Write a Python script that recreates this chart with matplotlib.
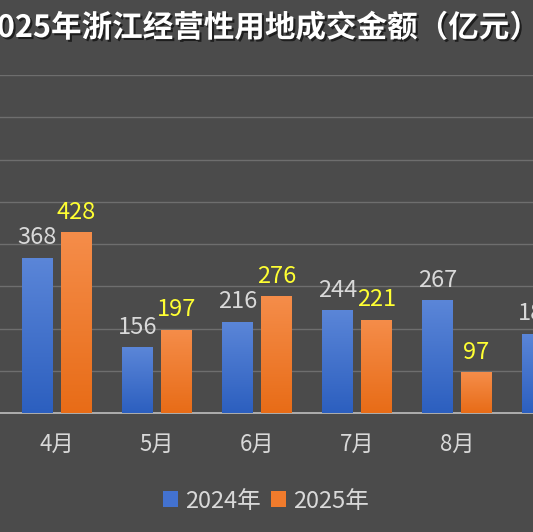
import numpy as np
import matplotlib.pyplot as plt
import matplotlib.patheffects as pe
from matplotlib.colors import LinearSegmentedColormap
from matplotlib.patches import Patch

plt.rcParams['font.family'] = ['Noto Sans CJK SC', 'DejaVu Sans']

months = ['4月', '5月', '6月', '7月', '8月', '9月']
sales_2024 = [368, 156, 216, 244, 267, 188]
sales_2025 = [428, 197, 276, 221, 97, np.nan]
series_names = ['2024年', '2025年']
title = '2025年浙江经营性用地成交金额（亿元）'

bg = '#4b4b4b'
blue_cmap = LinearSegmentedColormap.from_list('b', ['#2c5fbf', '#5b86d8'])
orange_cmap = LinearSegmentedColormap.from_list('o', ['#e86c17', '#f58d4a'])

fig = plt.figure(figsize=(5.33, 5.32), dpi=100)
fig.patch.set_facecolor(bg)
ax = fig.add_axes([0, 119 / 532, 1, 338 / 532])
ax.set_facecolor(bg)

x = np.arange(len(months))
w = 0.31
off = 0.195

grad = np.linspace(0, 1, 256).reshape(-1, 1)


def draw_bars(xs, vals, cmap, label_color):
    bars = ax.bar(xs, vals, width=w, color='none', edgecolor='none', zorder=3)
    for b, v in zip(bars, vals):
        if np.isnan(v):
            continue
        x0, y0 = b.get_x(), b.get_y()
        im = ax.imshow(grad, cmap=cmap, aspect='auto', origin='lower',
                       extent=[x0, x0 + b.get_width(), y0, y0 + b.get_height()],
                       zorder=3)
        im.set_clip_path(b)
        ax.annotate(f'{int(v)}', (b.get_x() + b.get_width() / 2, v),
                    xytext=(0, 6), textcoords='offset points',
                    ha='center', va='bottom', fontsize=17, color=label_color,
                    zorder=4, annotation_clip=False)


draw_bars(x - off, sales_2024, blue_cmap, '#d9d9d9')
draw_bars(x + off, sales_2025, orange_cmap, '#ffff33')

ax.set_yticks(np.arange(100, 801, 100))
ax.yaxis.grid(True, color='#6e6e6e', linewidth=1)
ax.set_axisbelow(True)
ax.tick_params(axis='y', left=False, labelleft=False)
ax.set_xticks(x)
ax.set_xticklabels(months, fontsize=16, color='#d9d9d9')
ax.tick_params(axis='x', length=0, pad=14)
# limits last: set_xticks would widen them
ax.set_xlim(-0.57, -0.57 + 5.33)
ax.set_ylim(0, 800)
for s in ['top', 'left', 'right']:
    ax.spines[s].set_visible(False)
ax.spines['bottom'].set_color('#bfbfbf')
ax.spines['bottom'].set_linewidth(1.2)

handles = [Patch(facecolor='#4372d0'), Patch(facecolor='#f07b2c')]
fig.legend(handles, series_names, loc='center', bbox_to_anchor=(266 / 533, 1 - 501 / 532),
           ncol=2, frameon=False, fontsize=17, labelcolor='#d9d9d9',
           handlelength=0.65, handleheight=0.65, handletextpad=0.3, columnspacing=0.4)

fig.text(539 / 533, 1 - 28 / 532, title, ha='right', va='center',
         fontsize=22, fontweight='bold', color='white',
         path_effects=[pe.withSimplePatchShadow(offset=(1.5, -1.5), shadow_rgbFace='black', alpha=0.6)])

fig.savefig('out.png', dpi=100, facecolor=bg)
